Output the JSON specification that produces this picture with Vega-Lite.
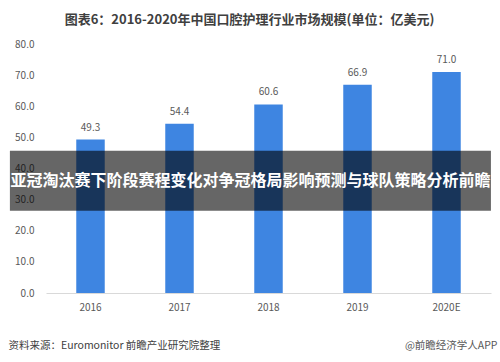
{
  "$schema": "https://vega.github.io/schema/vega-lite/v6.json",
  "autosize": "none",
  "width": 445,
  "height": 249,
  "padding": {"left": 46, "top": 44, "right": 9, "bottom": 69},
  "background": "white",
  "config": {"view": {"stroke": null}, "font": "Noto Sans CJK SC"},
  "title": {
    "text": "图表6：2016-2020年中国口腔护理行业市场规模(单位：亿美元)",
    "font": "Noto Sans CJK SC",
    "fontSize": 13,
    "fontWeight": "bold",
    "color": "#404040",
    "anchor": "middle",
    "dx": -19,
    "offset": 12
  },
  "data": {
    "values": [
      {"year": "2016", "value": 49.3},
      {"year": "2017", "value": 54.4},
      {"year": "2018", "value": 60.6},
      {"year": "2019", "value": 66.9},
      {"year": "2020E", "value": 71.0}
    ]
  },
  "encoding": {
    "x": {
      "field": "year",
      "type": "nominal",
      "sort": null,
      "scale": {"paddingInner": 0.68, "paddingOuter": 0.34},
      "axis": {
        "labelAngle": 0,
        "ticks": false,
        "domainColor": "#d9d9d9",
        "labelColor": "#595959",
        "labelFontSize": 10,
        "labelPadding": 9,
        "labelFont": "Noto Sans CJK SC",
        "title": "资料来源：Euromonitor 前瞻产业研究院整理",
        "titleAnchor": "start",
        "titleAlign": "left",
        "titleX": -38,
        "titleY": 47,
        "titleFontSize": 10.5,
        "titleFontWeight": "normal",
        "titleColor": "#404040",
        "titleFont": "Noto Sans CJK SC"
      }
    },
    "y": {
      "field": "value",
      "type": "quantitative",
      "scale": {"domain": [0, 80], "nice": false},
      "axis": {
        "values": [0, 10, 20, 30, 40, 50, 60, 70, 80],
        "format": ".1f",
        "ticks": false,
        "domain": false,
        "grid": false,
        "labelColor": "#595959",
        "labelFontSize": 10,
        "labelPadding": 12,
        "labelFont": "Noto Sans CJK SC",
        "title": null
      }
    }
  },
  "layer": [
    {"mark": {"type": "bar", "color": "#3E85E1"}},
    {
      "mark": {"type": "text", "baseline": "bottom", "dy": -7, "fontSize": 10, "color": "#595959"},
      "encoding": {"text": {"field": "value", "type": "quantitative", "format": ".1f"}}
    },
    {
      "data": {"values": [{"start": "2016", "end": "2020E", "top": 45.7, "bottom": 26.4}]},
      "mark": {"type": "rect", "color": "black", "opacity": 0.6},
      "encoding": {
        "x": {"field": "start", "type": "nominal", "bandPosition": -2.33},
        "x2": {"field": "end", "bandPosition": 2.06},
        "y": {"field": "top", "type": "quantitative"},
        "y2": {"field": "bottom"}
      }
    },
    {
      "data": {"values": [{"label": "亚冠淘汰赛下阶段赛程变化对争冠格局影响预测与球队策略分析前瞻", "pos": 36.0}]},
      "mark": {"type": "text", "color": "white", "fontSize": 16, "fontWeight": "bold", "dx": -18, "align": "center", "baseline": "middle"},
      "encoding": {
        "x": null,
        "y": {"field": "pos", "type": "quantitative"},
        "text": {"field": "label"}
      }
    },
    {
      "data": {"values": [{"label": "@前瞻经济学人APP", "year": "2020E", "pos": -17}]},
      "mark": {"type": "text", "color": "#595959", "fontSize": 10.5, "align": "right", "baseline": "middle", "dx": 51},
      "encoding": {
        "x": {"field": "year", "type": "nominal"},
        "y": {"field": "pos", "type": "quantitative"},
        "text": {"field": "label"}
      }
    }
  ]
}
